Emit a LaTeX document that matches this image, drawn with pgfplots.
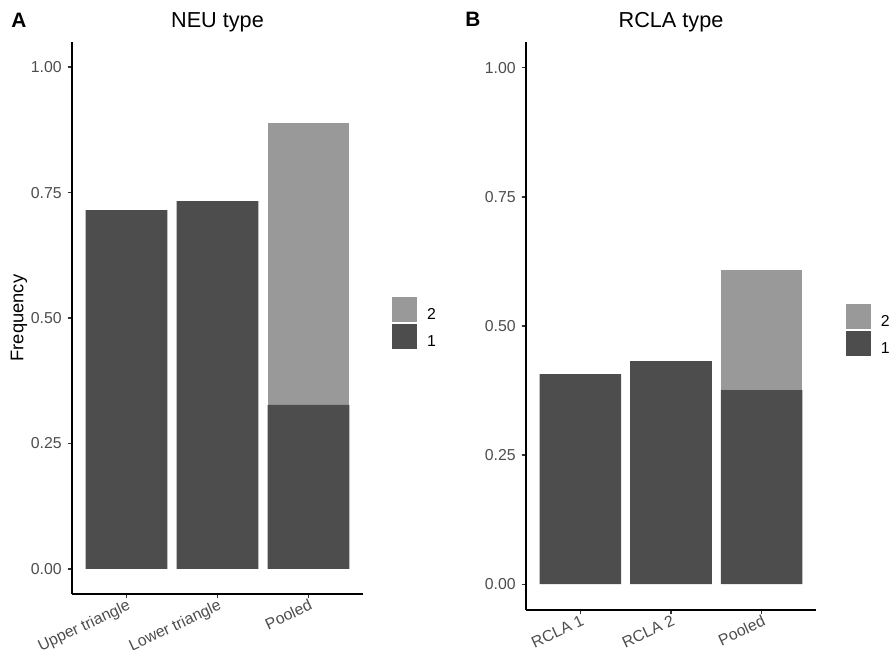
\documentclass[border=0pt]{standalone}
\usepackage{fontspec}
\setmainfont{Liberation Sans}
\usepackage{pgfplots}
\pgfplotsset{compat=1.18}
\definecolor{bardark}{HTML}{4D4D4D}
\definecolor{barlight}{HTML}{999999}
\definecolor{ticktext}{HTML}{4D4D4D}
\definecolor{tickline}{HTML}{333333}

\pgfplotsset{
  panel/.style={
    anchor=north west,
    scale only axis,
    ybar stacked, bar width=0.9,
    xmin=0.4, xmax=3.6, ymin=-0.05, ymax=1.05,
    axis lines*=left,
    axis line style={line width=0.8pt, black},
    tick align=outside, major tick length=2.6pt,
    tick style={color=tickline, line width=0.8pt},
    xtick={1,2,3},
    ytick={0,0.25,0.5,0.75,1},
    yticklabel style={/pgf/number format/.cd, fixed, fixed zerofill, precision=2,
      assume math mode=true, /tikz/.cd,
      font=\fontsize{9.5}{11}\selectfont, text=ticktext, anchor=east, inner sep=0pt, xshift=-3.4pt},
    xticklabel style={yshift=0pt, rotate=25, anchor=north east, inner sep=0pt,
      font=\fontsize{9.5}{11}\selectfont, text=ticktext},
    title style={at={(axis description cs:0.5,1)}, anchor=base, yshift=3pt,
      inner sep=0pt, font=\fontsize{13}{15}\selectfont},
    reverse legend,
    legend style={draw=none, fill=none, inner sep=0pt, outer sep=0pt,
      row sep=1.2pt, column sep=6pt, anchor=north west,
      font=\fontsize{9.5}{11}\selectfont, nodes={inner sep=0pt}},
    legend cell align=left,
  },
  key/.style={draw=none, fill=#1,
    legend image code/.code={\fill[#1] (0pt,-4.1pt) rectangle (15pt,10.9pt);}},
}

\begin{document}
\begin{tikzpicture}
\useasboundingbox (0pt,0pt) rectangle (534.6pt,-389.4pt);

\begin{axis}[panel,
  at={(43.2pt,-25.2pt)}, width=174.6pt, height=331.2pt,
  title={NEU type},
  xticklabels={Upper triangle, Lower triangle, Pooled},
  ylabel={Frequency},
  ylabel style={at={(axis description cs:-0.182,0.5)}, anchor=center,
    inner sep=0pt, font=\fontsize{11}{13}\selectfont},
  legend style={at={(axis description cs:1.0997,0.538)}},
]
\addplot[key=bardark] coordinates {(1,0.715) (2,0.733) (3,0.327)};
\addlegendentry{1}
\addplot[key=barlight] coordinates {(1,0) (2,0) (3,0.561)};
\addlegendentry{2}
\end{axis}

\begin{axis}[panel,
  at={(315.6pt,-25.2pt)}, width=174pt, height=340.8pt,
  title={RCLA type},
  xticklabels={RCLA 1, RCLA 2, Pooled},
  legend style={at={(axis description cs:1.1034,0.5387)}},
]
\addplot[key=bardark] coordinates {(1,0.407) (2,0.432) (3,0.376)};
\addlegendentry{1}
\addplot[key=barlight] coordinates {(1,0) (2,0) (3,0.233)};
\addlegendentry{2}
\end{axis}

\node[anchor=base west, inner sep=0pt, font=\bfseries\fontsize{12.5}{14}\selectfont] at (6.6pt,-16.2pt) {A};
\node[anchor=base west, inner sep=0pt, font=\bfseries\fontsize{12.5}{14}\selectfont] at (279pt,-15.6pt) {B};
\end{tikzpicture}
\end{document}
